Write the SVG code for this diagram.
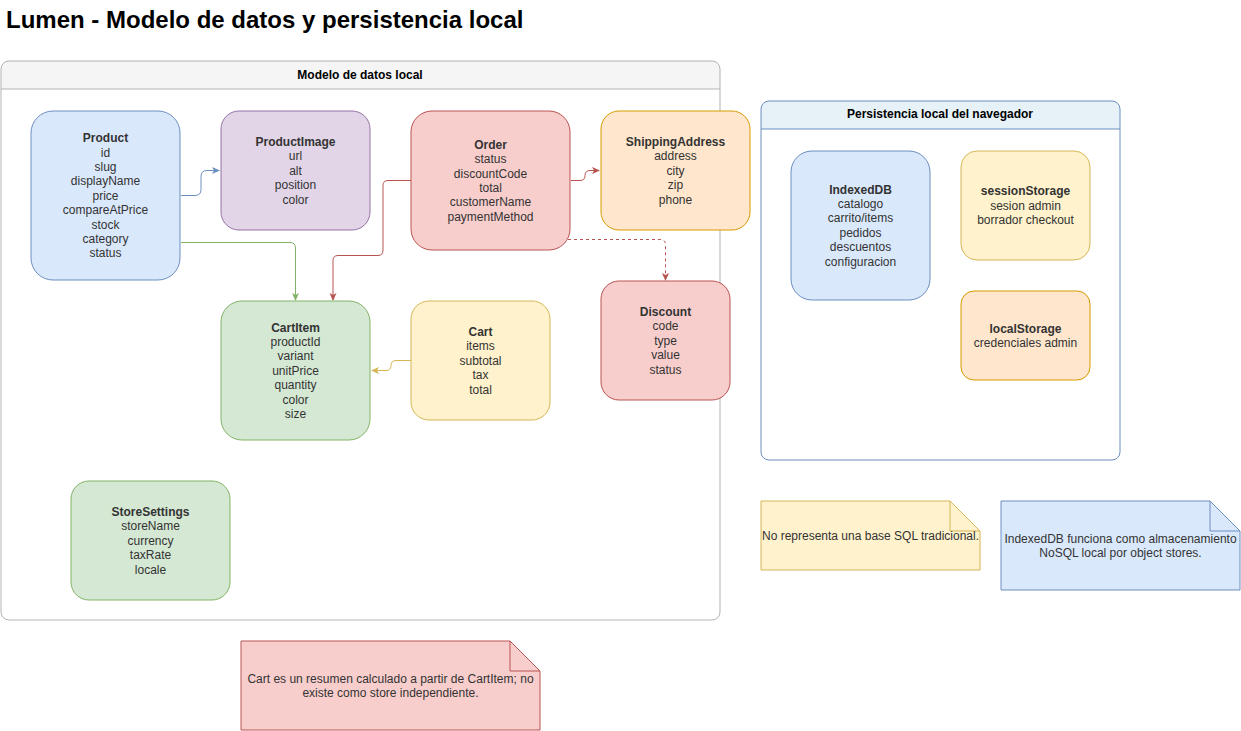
<svg xmlns="http://www.w3.org/2000/svg" width="1241" height="731" viewBox="0 0 1241 731">
<style>
text{font-family:"Liberation Sans",Arial,Helvetica,sans-serif;font-size:12px;fill:#333333;text-anchor:middle}
.t{font-weight:bold}
.title{font-size:24px;font-weight:bold;fill:#000;text-anchor:start}
.ct{font-weight:bold;fill:#000}
.blue{fill:#dae8fc;stroke:#6c8ebf}
.purple{fill:#e1d5e7;stroke:#9673a6}
.red{fill:#f8cecc;stroke:#b85450}
.orange{fill:#ffe6cc;stroke:#d79b00}
.green{fill:#d5e8d4;stroke:#82b366}
.yellow{fill:#fff2cc;stroke:#d6b656}
.e{fill:none;stroke-width:1}
.fold{fill:none}
</style>
<defs>
<marker id="aB" markerWidth="8" markerHeight="8" refX="7" refY="4" orient="auto" markerUnits="userSpaceOnUse"><path d="M0,0.5 L8,4 L0,7.5 L2,4 Z" fill="#6c8ebf"/></marker>
<marker id="aG" markerWidth="8" markerHeight="8" refX="7" refY="4" orient="auto" markerUnits="userSpaceOnUse"><path d="M0,0.5 L8,4 L0,7.5 L2,4 Z" fill="#82b366"/></marker>
<marker id="aR" markerWidth="8" markerHeight="8" refX="7" refY="4" orient="auto" markerUnits="userSpaceOnUse"><path d="M0,0.5 L8,4 L0,7.5 L2,4 Z" fill="#b85450"/></marker>
<marker id="aY" markerWidth="8" markerHeight="8" refX="7" refY="4" orient="auto" markerUnits="userSpaceOnUse"><path d="M0,0.5 L8,4 L0,7.5 L2,4 Z" fill="#d6b656"/></marker>
</defs>
<rect width="1241" height="731" fill="#ffffff"/>
<text class="title" x="6" y="28">Lumen - Modelo de datos y persistencia local</text>

<g id="container-modelo">
<path d="M1,89 V69 Q1,61 9,61 H712 Q720,61 720,69 V89 Z" fill="#f5f5f5" stroke="none"/>
<rect x="1" y="61" width="719" height="559" rx="8" fill="none" stroke="#b3b3b3"/>
<line x1="1" y1="89" x2="720" y2="89" stroke="#b3b3b3"/>
<text class="ct" x="360" y="79">Modelo de datos local</text>
</g>

<g id="container-persistencia">
<path d="M761,129 V109 Q761,101 769,101 H1112 Q1120,101 1120,109 V129 Z" fill="#e6f2f8" stroke="none"/>
<rect x="761" y="101" width="359" height="359" rx="8" fill="none" stroke="#6c8ebf"/>
<line x1="761" y1="129" x2="1120" y2="129" stroke="#6c8ebf"/>
<text class="ct" x="940" y="118">Persistencia local del navegador</text>
</g>

<g id="connectors">
<path class="e" stroke="#6c8ebf" d="M181,195.5 H195 Q201,195.5 201,189.5 V176.5 Q201,170.5 207,170.5 H219" marker-end="url(#aB)"/>
<path class="e" stroke="#82b366" d="M181,242.5 H290 Q295.5,242.5 295.5,248 V300" marker-end="url(#aG)"/>
<path class="e" stroke="#b85450" d="M411,180.5 H388 Q383,180.5 383,185.5 V250 Q383,255.5 378,255.5 H338 Q333,255.5 333,260.5 V300" marker-end="url(#aR)"/>
<path class="e" stroke="#b85450" d="M571,180.5 H580 Q585,180.5 585,175.5 Q585,170.5 590,170.5 H599" marker-end="url(#aR)"/>
<path class="e" stroke="#b85450" stroke-dasharray="3,3" d="M568,239.5 H660 Q665.5,239.5 665.5,245 V280" marker-end="url(#aR)"/>
<path class="e" stroke="#d6b656" d="M411,360.5 H396 Q391,360.5 391,365.5 Q391,370.5 386,370.5 H372" marker-end="url(#aY)"/>
</g>

<g id="node-product">
<rect class="blue" x="31" y="111" width="149" height="169" rx="22"/>
<text x="105.5" y="142.2" class="t">Product</text>
<text x="105.5" y="156.6">id</text>
<text x="105.5" y="171">slug</text>
<text x="105.5" y="185.4">displayName</text>
<text x="105.5" y="199.8">price</text>
<text x="105.5" y="214.2">compareAtPrice</text>
<text x="105.5" y="228.6">stock</text>
<text x="105.5" y="243">category</text>
<text x="105.5" y="257.4">status</text>
</g>

<g id="node-productimage">
<rect class="purple" x="221" y="111" width="149" height="119" rx="18"/>
<text x="295.5" y="146" class="t">ProductImage</text>
<text x="295.5" y="160.4">url</text>
<text x="295.5" y="174.8">alt</text>
<text x="295.5" y="189.2">position</text>
<text x="295.5" y="203.6">color</text>
</g>

<g id="node-order">
<rect class="red" x="411" y="111" width="159" height="139" rx="21"/>
<text x="490.5" y="148.8" class="t">Order</text>
<text x="490.5" y="163.2">status</text>
<text x="490.5" y="177.6">discountCode</text>
<text x="490.5" y="192">total</text>
<text x="490.5" y="206.4">customerName</text>
<text x="490.5" y="220.8">paymentMethod</text>
</g>

<g id="node-shippingaddress">
<rect class="orange" x="601" y="111" width="149" height="119" rx="18"/>
<text x="675.5" y="146" class="t">ShippingAddress</text>
<text x="675.5" y="160.4">address</text>
<text x="675.5" y="174.8">city</text>
<text x="675.5" y="189.2">zip</text>
<text x="675.5" y="203.6">phone</text>
</g>

<g id="node-cartitem">
<rect class="green" x="221" y="301" width="149" height="139" rx="21"/>
<text x="295.5" y="331.6" class="t">CartItem</text>
<text x="295.5" y="346">productId</text>
<text x="295.5" y="360.4">variant</text>
<text x="295.5" y="374.8">unitPrice</text>
<text x="295.5" y="389.2">quantity</text>
<text x="295.5" y="403.6">color</text>
<text x="295.5" y="418">size</text>
</g>

<g id="node-cart">
<rect class="yellow" x="411" y="301" width="139" height="119" rx="18"/>
<text x="480.5" y="336" class="t">Cart</text>
<text x="480.5" y="350.4">items</text>
<text x="480.5" y="364.8">subtotal</text>
<text x="480.5" y="379.2">tax</text>
<text x="480.5" y="393.6">total</text>
</g>

<g id="node-discount">
<rect class="red" x="601" y="281" width="129" height="119" rx="18"/>
<text x="665.5" y="316" class="t">Discount</text>
<text x="665.5" y="330.4">code</text>
<text x="665.5" y="344.8">type</text>
<text x="665.5" y="359.2">value</text>
<text x="665.5" y="373.6">status</text>
</g>

<g id="node-storesettings">
<rect class="green" x="71" y="481" width="159" height="119" rx="18"/>
<text x="150.5" y="516" class="t">StoreSettings</text>
<text x="150.5" y="530.4">storeName</text>
<text x="150.5" y="544.8">currency</text>
<text x="150.5" y="559.2">taxRate</text>
<text x="150.5" y="573.6">locale</text>
</g>

<g id="node-indexeddb">
<rect class="blue" x="791" y="151" width="139" height="149" rx="21"/>
<text x="860.5" y="193.6" class="t">IndexedDB</text>
<text x="860.5" y="208">catalogo</text>
<text x="860.5" y="222.4">carrito/items</text>
<text x="860.5" y="236.8">pedidos</text>
<text x="860.5" y="251.2">descuentos</text>
<text x="860.5" y="265.6">configuracion</text>
</g>

<g id="node-sessionstorage">
<rect class="yellow" x="961" y="151" width="129" height="109" rx="16"/>
<text x="1025.5" y="195.4" class="t">sessionStorage</text>
<text x="1025.5" y="209.8">sesion admin</text>
<text x="1025.5" y="224.2">borrador checkout</text>
</g>

<g id="node-localstorage">
<rect class="orange" x="961" y="291" width="129" height="89" rx="13"/>
<text x="1025.5" y="332.6" class="t">localStorage</text>
<text x="1025.5" y="347">credenciales admin</text>
</g>

<g id="note-sql">
<path class="yellow" d="M761,501 H950 L980,531 V570 H761 Z"/>
<path class="fold" stroke="#d6b656" d="M950,501 V531 H980"/>
<text x="870.5" y="539.5">No representa una base SQL tradicional.</text>
</g>

<g id="note-indexeddb">
<path class="blue" d="M1001,501 H1210 L1240,531 V590 H1001 Z"/>
<path class="fold" stroke="#6c8ebf" d="M1210,501 V531 H1240"/>
<text x="1120.5" y="542.6">IndexedDB funciona como almacenamiento</text>
<text x="1120.5" y="557">NoSQL local por object stores.</text>
</g>

<g id="note-cart">
<path class="red" d="M241,641 H510 L540,671 V730 H241 Z"/>
<path class="fold" stroke="#b85450" d="M510,641 V671 H540"/>
<text x="390.5" y="682.6">Cart es un resumen calculado a partir de CartItem; no</text>
<text x="390.5" y="697">existe como store independiente.</text>
</g>
</svg>
